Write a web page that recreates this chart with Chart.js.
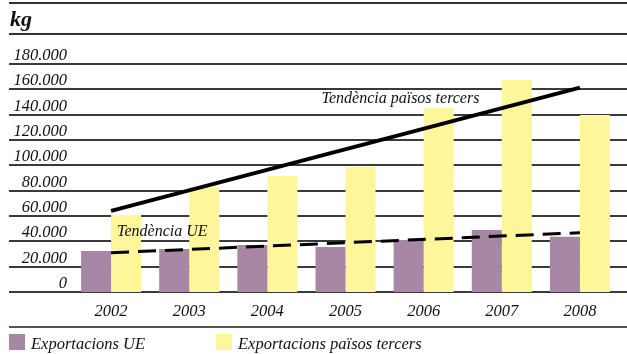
<!DOCTYPE html>
<html>
<head>
<meta charset="utf-8">
<script src="https://cdn.jsdelivr.net/npm/chart.js@4.4.1/dist/chart.umd.min.js"></script>
<style>
    body { margin: 0; background: #fff; }
    #wrap { position: relative; width: 627px; height: 354px; overflow: hidden;
            font-family: "Liberation Serif", "Times New Roman", serif; font-style: italic; color: #111; }
    #wrap canvas { position: absolute; left: 0; top: 0; }
    .rule { position: absolute; left: 9px; right: 0; background: #333; }
    #unit { position: absolute; left: 10px; top: 7px; font-size: 22px; font-weight: bold; line-height: 24px; }
    .leg-box { position: absolute; top: 334px; width: 16px; height: 16px; }
    .leg-text { position: absolute; top: 335px; font-size: 16.5px; line-height: 18px; white-space: nowrap; }
</style>
</head>
<body>
<div id="wrap">
    <canvas id="chart" width="627" height="354"></canvas>
    <div class="rule" style="top:2px;height:2px"></div>
    <div id="unit">kg</div>
    <div class="rule" style="top:33px;height:2px"></div>
    <div class="rule" style="top:326px;height:2px;background:#555"></div>
    <div id="legend"></div>
</div>
<script>
// Dades
const years = ['2002', '2003', '2004', '2005', '2006', '2007', '2008'];
const exportUE = [32400, 34000, 37100, 35500, 41100, 49000, 43700];
const exportTercers = [60800, 82700, 91600, 98900, 145500, 167400, 139800];
// tendències: només els extrems, la línia uneix els dos punts
const trendTercers = [64000, null, null, null, null, null, 161300];
const trendUE = [31000, null, null, null, null, null, 46800];
const yTicks = [0, 20000, 40000, 60000, 80000, 100000, 120000, 140000, 160000, 180000];
const seriesNames = ['Exportacions UE', 'Exportacions països tercers'];
const seriesColors = ['#a886a6', '#fff59b'];

const FONT = '"Liberation Serif", "Times New Roman", serif';
const fmt = (v) => v.toLocaleString('de-DE');

// llegenda en html
const legend = document.getElementById('legend');
const legendX = [9, 216];
seriesNames.forEach((name, i) => {
    legend.innerHTML += `
        <div class="leg-box" style="left:${legendX[i]}px;background:${seriesColors[i]}"></div>
        <div class="leg-text" style="left:${legendX[i] + 22}px">${name}</div>`;
});

// graella i etiquetes de l'eix y sobre la línia, a tota l'amplada
const gridPlugin = {
    id: 'gridPlugin',
    beforeDatasetsDraw(chart) {
        const { ctx, scales: { y } } = chart;
        ctx.save();
        ctx.font = `italic 16.5px ${FONT}`;
        ctx.textAlign = 'right';
        ctx.textBaseline = 'alphabetic';
        yTicks.forEach(v => {
            const py = Math.round(y.getPixelForValue(v));
            ctx.strokeStyle = '#3a3a3a';
            ctx.lineWidth = 2;
            ctx.beginPath();
            ctx.moveTo(9, py);
            ctx.lineTo(chart.width, py);
            ctx.stroke();
            ctx.fillStyle = '#111';
            ctx.fillText(fmt(v), 67, py - 4);
        });
        ctx.restore();
    }
};

// textos de les línies de tendència
const trendLabels = {
    id: 'trendLabels',
    afterDatasetsDraw(chart) {
        const { ctx, scales: { x, y } } = chart;
        ctx.save();
        ctx.font = `italic 16px ${FONT}`;
        ctx.fillStyle = '#111';
        ctx.textAlign = 'left';
        ctx.textBaseline = 'middle';
        ctx.fillText('Tendència països tercers', x.getPixelForValue(3) - 24, y.getPixelForValue(152500));
        ctx.fillText('Tendència UE', x.getPixelForValue(0) + 6, y.getPixelForValue(47800));
        ctx.restore();
    }
};

new Chart(document.getElementById('chart'), {
    type: 'bar',
    data: {
        labels: years,
        datasets: [
            {
                label: seriesNames[0],
                data: exportUE,
                backgroundColor: seriesColors[0],
                categoryPercentage: 0.768,
                barPercentage: 1.0,
                order: 2
            },
            {
                label: seriesNames[1],
                data: exportTercers,
                backgroundColor: seriesColors[1],
                categoryPercentage: 0.768,
                barPercentage: 1.0,
                order: 2
            },
            {
                type: 'line',
                label: 'Tendència països tercers',
                data: trendTercers,
                borderColor: '#000',
                borderWidth: 4,
                pointRadius: 0,
                spanGaps: true,
                order: 1
            },
            {
                type: 'line',
                label: 'Tendència UE',
                data: trendUE,
                borderColor: '#000',
                borderWidth: 3,
                borderDash: [18, 9],
                pointRadius: 0,
                spanGaps: true,
                order: 1
            }
        ]
    },
    options: {
        responsive: false,
        animation: false,
        layout: { padding: { left: 10, right: 8, top: 64, bottom: 26 } },
        plugins: {
            legend: { display: false },
            tooltip: { enabled: false }
        },
        scales: {
            x: {
                grid: { display: false, drawTicks: false },
                border: { display: false },
                ticks: {
                    padding: 10,
                    color: '#111',
                    font: { family: FONT, size: 16.5, style: 'italic' },
                    maxRotation: 0
                },
                afterFit(scale) { scale.height = 36; }
            },
            y: {
                min: 0,
                max: 180000,
                ticks: { display: false, stepSize: 20000 },
                grid: { display: false },
                border: { display: false },
                afterFit(scale) { scale.width = 62; }
            }
        }
    },
    plugins: [gridPlugin, trendLabels]
});
</script>
</body>
</html>
